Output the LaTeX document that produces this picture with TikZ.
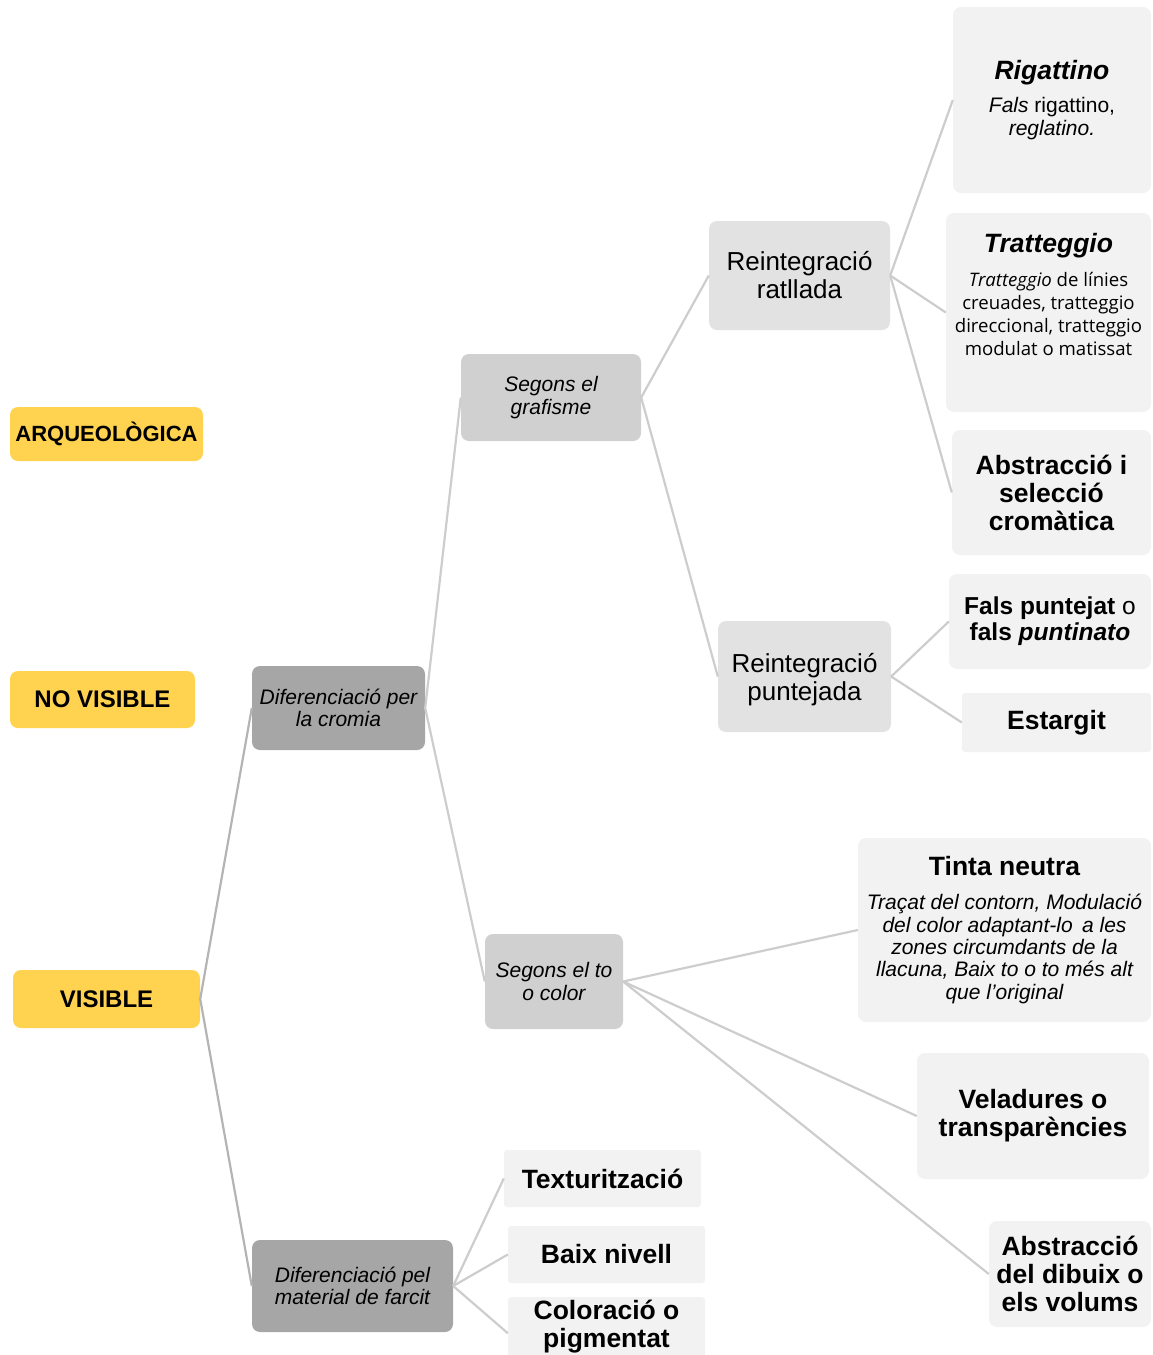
\documentclass[tikz,border=0pt]{standalone}
\usepackage{fontspec}
\setmainfont{Liberation Sans}
\newfontfamily\osans{Open Sans}
\definecolor{cYel}{HTML}{FFD34F}
\definecolor{cDark}{HTML}{A6A6A6}
\definecolor{cMid}{HTML}{D0D0D0}
\definecolor{cLight}{HTML}{E2E2E2}
\definecolor{cPale}{HTML}{F2F2F2}
\definecolor{cLineA}{HTML}{B4B4B4}
\definecolor{cLineB}{HTML}{CDCDCD}
\newcommand\ftitle{\fontsize{26.5}{28}\selectfont\bfseries}
\newcommand\fsub{\fontsize{21}{22.3}\selectfont\itshape}
\begin{document}
\begin{tikzpicture}[x=1pt,y=-1pt,
  bx/.style={rectangle, rounded corners=8pt, inner sep=0pt, align=center},
  yel/.style={bx, fill=cYel, font=\fontsize{24}{26}\selectfont\bfseries},
  dark/.style={bx, fill=cDark, font=\fsub},
  mid/.style={bx, fill=cMid, font=\fsub},
  light/.style={bx, fill=cLight, font=\fontsize{26}{28}\selectfont},
  pale/.style={bx, fill=cPale, font=\ftitle},
  txt/.style={inner sep=0pt, align=center},
  connA/.style={draw=cLineA, line width=2.2pt},
  connB/.style={draw=cLineB, line width=2.2pt}]
\useasboundingbox (0,0) rectangle (1153,1355);

% level 0
\node[yel, minimum width=193, minimum height=54, font=\fontsize{22}{24}\selectfont\bfseries] (arq) at (106.5,434) {ARQUEOLÒGICA};
\node[yel, minimum width=185, minimum height=57] (nov) at (102.5,699.5) {NO VISIBLE};
\node[yel, minimum width=187, minimum height=58] (vis) at (106.5,999) {VISIBLE};

% level 1
\node[dark, minimum width=173, minimum height=84] (dc) at (338.5,708) {Diferenciació per\\la cromia};
\node[dark, minimum width=201, minimum height=92] (df) at (352.5,1286) {Diferenciació pel\\material de farcit};

% level 2
\node[mid, minimum width=180, minimum height=87] (sg) at (551,397.5) {Segons el\\grafisme};
\node[mid, minimum width=138, minimum height=95] (st) at (554,981.5) {Segons el to\\o color};

% level 3
\node[light, minimum width=181, minimum height=109] (rr) at (799.5,275.5) {Reintegració\\ratllada};
\node[light, minimum width=173, minimum height=111] (rp) at (804.5,676.5) {};
\node[txt, font=\fontsize{26}{28}\selectfont] (rptxt) at (804.5,680) {Reintegració\\puntejada};

% leaves (grafisme)
\node[pale, minimum width=198, minimum height=186, font=\fsub] (rig) at (1052,100)
  {{\ftitle\itshape Rigattino}\\[11pt]Fals {\upshape rigattino,}\\reglatino.};
\node[pale, minimum width=205, minimum height=199] (tra) at (1048.5,312.5) {};
\node[txt, font=\osans\fontsize{18.6}{23}\selectfont] (tratxt) at (1048.5,294)
  {{\rmfamily\ftitle\itshape Tratteggio}\\[11pt]{\itshape Tratteggio} de línies\\creuades, tratteggio\\direccional, tratteggio\\modulat o matissat};
\node[pale, minimum width=199, minimum height=125] (abs) at (1051.5,492.5) {Abstracció i\\selecció\\cromàtica};
\node[pale, minimum width=202, minimum height=95, font=\fontsize{24.5}{26}\selectfont] (fp) at (1050,621.5)
  {{\bfseries Fals puntejat} o\\{\bfseries fals \itshape puntinato}};
\node[pale, minimum width=189, minimum height=59, rounded corners=3pt] (est) at (1056.5,722.5) {Estargit};

% leaves (to o color)
\node[pale, minimum width=293, minimum height=184, font=\fsub] (tn) at (1004.5,930)
  {{\ftitle\upshape Tinta neutra}\\[12pt]Traçat del contorn, Modulació\\del color adaptant-lo\, a les\\zones circumdants de la\\llacuna, Baix to o to més alt\\que l'original};
\node[pale, minimum width=232, minimum height=126] (vel) at (1033,1116) {Veladures o\\transparències};
\node[pale, minimum width=162, minimum height=106] (abd) at (1070,1274) {Abstracció\\del dibuix o\\els volums};

% leaves (farcit)
\node[pale, minimum width=197, minimum height=57, rounded corners=3pt] (tex) at (602.5,1178.5) {Texturització};
\node[pale, minimum width=197, minimum height=57, rounded corners=3pt] (bn) at (606.5,1254.5) {Baix nivell};
\node[pale, minimum width=197, minimum height=72, rounded corners=3pt, anchor=north] (col) at (606.5,1297) {};
\node[txt, font=\ftitle] (coltxt) at (606.5,1327) {Coloració o\\pigmentat};

% connectors
\draw[connA] (vis.east) -- (dc.west);
\draw[connA] (vis.east) -- (df.west);
\draw[connB] (dc.east) -- (sg.west);
\draw[connB] (dc.east) -- (st.west);
\draw[connB] (sg.east) -- (rr.west);
\draw[connB] (sg.east) -- (rp.west);
\draw[connB] (rr.east) -- (rig.west);
\draw[connB] (rr.east) -- (tra.west);
\draw[connB] (rr.east) -- (abs.west);
\draw[connB] (rp.east) -- (fp.west);
\draw[connB] (rp.east) -- (est.west);
\draw[connB] (st.east) -- (tn.west);
\draw[connB] (st.east) -- (vel.west);
\draw[connB] (st.east) -- (abd.west);
\draw[connB] (df.east) -- (tex.west);
\draw[connB] (df.east) -- (bn.west);
\draw[connB] (df.east) -- (col.west);
\end{tikzpicture}
\end{document}
